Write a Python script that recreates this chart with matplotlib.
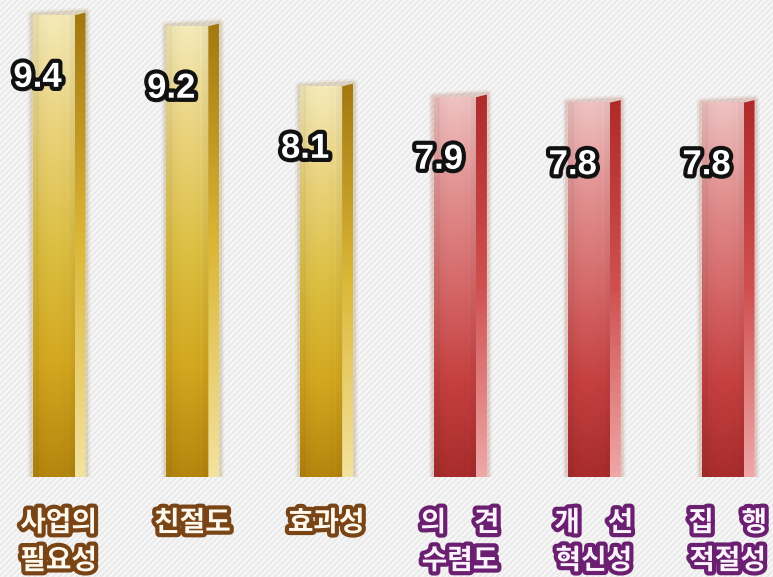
import numpy as np
import matplotlib.pyplot as plt
import matplotlib.patheffects as pe
from matplotlib.patches import Polygon
from matplotlib.colors import LinearSegmentedColormap

plt.rcParams['font.family'] = ['Noto Sans CJK KR', 'DejaVu Sans']

categories = ["사업의\n필요성", "친절도", "효과성",
              "의\u3000견\n수렴도", "개\u3000선\n혁신성", "집\u3000행\n적절성"]
scores = [9.4, 9.2, 8.1, 7.9, 7.8, 7.8]
groups = ["gold", "gold", "gold", "red", "red", "red"]

base = 0.95
top = 9.68

# colour ramps, bottom -> top
front_cmaps = {
    "gold": LinearSegmentedColormap.from_list("gf", ["#b5860e", "#d4a820", "#dcbf42", "#ead27a", "#f5eab8"]),
    "red": LinearSegmentedColormap.from_list("rf", ["#a92c2c", "#c64040", "#d66868", "#e29090", "#f0c2c2"]),
}
side_cmaps = {
    "gold": LinearSegmentedColormap.from_list("gs", ["#f4e3a0", "#dcb838", "#a27810"]),
    "red": LinearSegmentedColormap.from_list("rs", ["#f0a8a8", "#d05050", "#b02a2a"]),
}
glow = {"gold": "#8a6010", "red": "#9a4020"}
label_fill = {"gold": "#fffaf0", "red": "#fbf3fb"}
label_edge = {"gold": "#7a4516", "red": "#6a1f70"}

fig = plt.figure(figsize=(7.73, 5.77), dpi=100)

# striped background
bg = fig.add_axes([0, 0, 1, 1])
yy, xx = np.mgrid[0:577, 0:773]
stripe = 0.5 + 0.5 * np.sin(2 * np.pi * (xx + yy) / 6.0)
shade = 0.915 + 0.06 * stripe
bg.imshow(np.dstack([shade, shade, shade]), extent=[0, 773, 577, 0], aspect='auto')
bg.axis('off')

ax = fig.add_axes([0, 100 / 577, 1, 477 / 577])
ax.patch.set_alpha(0)
ax.axis('off')

fw = 0.314
sw = 0.082
ramp = np.linspace(0, 1, 256)

for i, (v, g) in enumerate(zip(scores, groups)):
    x0, x1 = i - fw / 2, i + fw / 2
    # soft glow
    for lw, a in [(7, 0.08), (4, 0.15)]:
        ax.add_patch(Polygon([(x0, base), (x1 + sw, base - 0.02), (x1 + sw, v + 0.05), (x0, v)],
                             closed=True, fill=False, edgecolor=glow[g], lw=lw, alpha=a,
                             joinstyle='round', zorder=1))
    # front face
    col = front_cmaps[g](ramp)[:, None, :3]
    hmod = 1 - 0.06 * np.abs(np.linspace(-1, 1, 24)) ** 2
    hmod[2] *= 0.96
    hmod[-5] = min(1.0, hmod[-5] * 1.03)
    img = np.clip(col * hmod[None, :, None], 0, 1)
    ax.imshow(img, extent=[x0, x1, base, v], origin='lower', aspect='auto', zorder=2)
    # side face
    side = side_cmaps[g](ramp)[:, None, :3].repeat(4, axis=1)
    im = ax.imshow(side, extent=[x1, x1 + sw, base - 0.03, v + 0.06], origin='lower',
                   aspect='auto', zorder=2)
    clip = Polygon([(x1, base), (x1 + sw, base - 0.025), (x1 + sw, v + 0.05), (x1, v)],
                   closed=True, transform=ax.transData)
    im.set_clip_path(clip)

    ax.annotate(f"{v:.1f}", xy=(i, v), xytext=(-16, -62), textcoords='offset pixels',
                ha='center', va='center', fontsize=25, fontweight='bold',
                family='Liberation Sans', color='white', zorder=5,
                path_effects=[pe.SimplePatchShadow(offset=(2, -3), shadow_rgbFace='black', alpha=0.35),
                              pe.Stroke(linewidth=6, foreground='#111111'), pe.Normal()])

    ax.annotate(categories[i], xy=(i, base), xytext=(5, -32), textcoords='offset pixels',
                ha='center', va='top', fontsize=20, fontweight='black', linespacing=1.45,
                color=label_fill[g], zorder=5, annotation_clip=False,
                path_effects=[pe.Stroke(linewidth=6, foreground=label_edge[g]), pe.Normal()])

ax.set_xlim(-0.4, 5.377)
ax.set_ylim(base, top)

fig.savefig("out.png", dpi=100)
